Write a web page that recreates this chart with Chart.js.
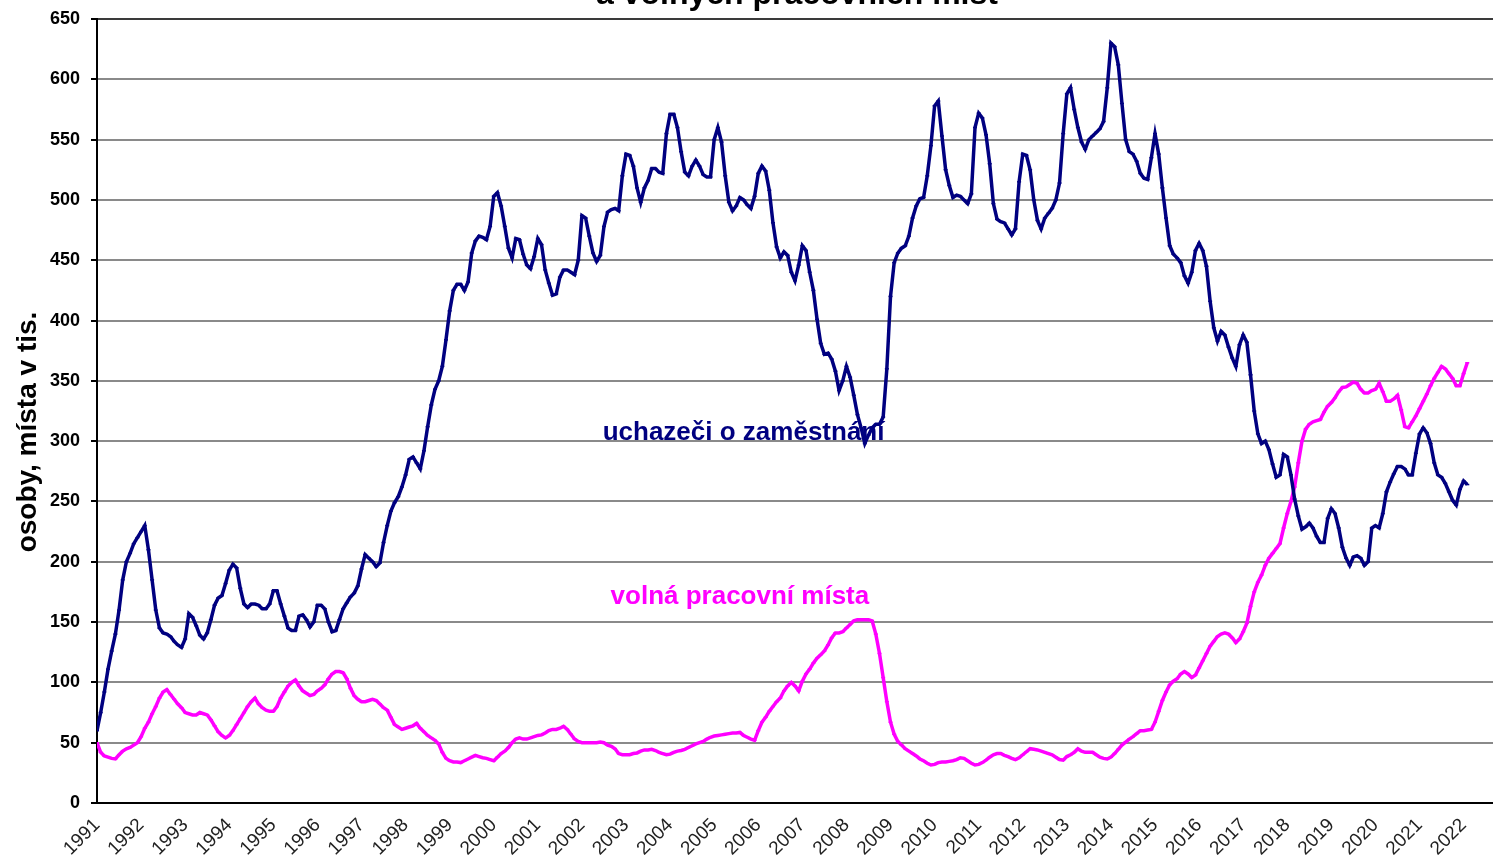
<!DOCTYPE html>
<html>
<head>
<meta charset="utf-8">
<script src="https://cdn.jsdelivr.net/npm/chart.js@4.4.0/dist/chart.umd.min.js"></script>
<style>
  html, body { margin: 0; padding: 0; background: #fff; }
</style>
</head>
<body>
<canvas id="graf" width="1493" height="865"></canvas>
<script>
// roky na ose x (leden kazdeho roku)
var roky = [1991, 1992, 1993, 1994, 1995, 1996, 1997, 1998, 1999, 2000, 2001, 2002, 2003, 2004, 2005, 2006,
            2007, 2008, 2009, 2010, 2011, 2012, 2013, 2014, 2015, 2016, 2017, 2018, 2019, 2020, 2021, 2022];

var nazvyRad = ['uchazeči o zaměstnání', 'volná pracovní místa'];

// mesicni hodnoty v tis., leden 1991 - unor 2022
var uchazeci = [
  60, 75, 92, 111, 126, 140, 160, 185, 200, 207, 215, 220,      // 1991
  225, 230, 210, 185, 160, 145, 141, 140, 138, 134, 131, 129,   // 1992
  136, 157, 154, 147, 139, 136, 141, 152, 164, 170, 172, 182,   // 1993
  193, 198, 195, 178, 165, 162, 165, 165, 164, 161, 161, 165,   // 1994
  176, 176, 165, 155, 145, 143, 143, 155, 156, 152, 146, 150,   // 1995
  164, 164, 161, 150, 142, 143, 152, 161, 166, 171, 174, 180,   // 1996
  194, 206, 203, 200, 196, 199, 216, 230, 242, 249, 254, 262,   // 1997
  272, 285, 287, 282, 277, 292, 312, 330, 343, 350, 362, 384,   // 1998
  408, 425, 430, 430, 425, 432, 456, 466, 470, 469, 467, 478,   // 1999
  503, 506, 495, 478, 460, 452, 468, 467, 455, 446, 443, 453,   // 2000
  468, 463, 442, 431, 421, 422, 436, 442, 442, 440, 438, 450,   // 2001
  487, 485, 470, 456, 449, 454, 478, 490, 492, 493, 491, 520,   // 2002
  538, 537, 528, 510, 498, 510, 516, 526, 526, 523, 522, 555,   // 2003
  571, 571, 560, 540, 523, 520, 528, 533, 528, 521, 519, 519,   // 2004
  550, 560, 548, 520, 498, 491, 495, 502, 500, 496, 493, 503,   // 2005
  522, 528, 524, 508, 481, 461, 452, 457, 454, 440, 433, 446,   // 2006
  462, 458, 440, 425, 401, 381, 372, 373, 368, 358, 342, 350,   // 2007
  362, 353, 338, 322, 311, 298, 305, 311, 314, 314, 320, 360,   // 2008
  420, 448, 456, 460, 462, 470, 485, 495, 501, 502, 520, 545,   // 2009
  578, 582, 553, 525, 512, 502, 504, 503, 500, 497, 505, 560,   // 2010
  572, 568, 554, 530, 497, 484, 482, 481, 476, 471, 476, 515,   // 2011
  538, 537, 525, 500, 483, 476, 485, 489, 493, 500, 514, 555,   // 2012
  588, 593, 575, 560, 548, 542, 550, 553, 556, 559, 565, 593,   // 2013
  630, 627, 612, 580, 550, 540, 538, 532, 522, 518, 517, 535,   // 2014
  555, 538, 510, 485, 462, 455, 452, 448, 437, 431, 440, 458,   // 2015
  464, 458, 445, 416, 394, 383, 391, 388, 378, 369, 362, 380,   // 2016
  388, 382, 355, 325, 306, 298, 300, 293, 281, 270, 272, 289,   // 2017
  287, 272, 252, 238, 227, 229, 232, 228, 221, 216, 216, 236,   // 2018
  244, 240, 228, 212, 203, 197, 204, 205, 203, 197, 200, 228,   // 2019
  230, 228, 240, 258, 266, 273, 279, 279, 277, 272, 272, 290,   // 2020
  306, 311, 307, 298, 282, 272, 270, 265, 258, 251, 247, 260,   // 2021
  267, 264                                                      // 2022
];

var volnaMista = [
  50, 42, 39, 38, 37, 36.5, 40, 43, 45, 46, 48, 50,             // 1991
  55, 62, 67, 74, 80, 87, 92, 94, 90, 86, 82, 79,               // 1992
  75, 74, 73, 73, 75, 74, 73, 69, 64, 59, 56, 54,               // 1993
  56, 60, 65, 70, 75, 80, 84, 87, 82, 79, 77, 76,               // 1994
  76, 80, 87, 92, 97, 100, 102, 97, 93, 91, 89, 90,             // 1995
  93, 95, 98, 103, 107, 109, 109, 108, 103, 95, 89, 86,         // 1996
  84, 84, 85, 86, 85, 82, 79, 77, 71, 65, 63, 61,               // 1997
  62, 63, 64, 66, 62, 59, 56, 54, 52, 49, 42, 37,               // 1998
  35, 34, 34, 33.5, 35, 36.5, 38, 39.5, 38.5, 37.5, 37, 36,     // 1999
  35, 38, 41, 43, 46, 50, 53, 54, 53, 53, 54, 55,               // 2000
  56, 56.5, 58, 60, 61, 61, 62, 63.5, 61, 57, 53, 51,           // 2001
  50, 50, 50, 50, 50, 50.5, 50, 48, 47, 45, 41, 40,             // 2002
  40, 40, 41, 41.5, 43, 44, 44, 44.5, 43.5, 42, 41, 40,         // 2003
  40.5, 42, 43, 43.5, 44.5, 46, 47.5, 49, 50, 51, 53, 54.5,     // 2004
  55.5, 56, 56.5, 57, 57.5, 58, 58, 58.5, 56, 54.5, 53, 52,     // 2005
  60, 67, 71, 76, 80, 84, 87, 93, 97, 100, 97, 93,              // 2006
  101, 107, 111, 116, 120, 123, 126, 131, 137, 141, 141, 142,   // 2007
  145, 148, 151, 152, 152, 152, 152, 151, 140, 124, 104, 84,    // 2008
  67, 57, 51, 48, 45, 43, 41, 39, 36.5, 35, 33, 31.5,           // 2009
  32, 33.5, 34, 34, 34.5, 35, 36, 37.5, 37, 35, 33, 31.5,       // 2010
  32, 33.5, 35.5, 38, 40, 41, 41, 39.5, 38.5, 37, 36, 37.5,     // 2011
  40, 42.5, 45, 44.5, 44, 43, 42, 41, 40, 38, 36, 35.5,         // 2012
  38.5, 40, 42, 45, 43, 42, 42, 42, 40, 38, 37, 36.5,           // 2013
  38, 41, 44.5, 48, 50.5, 53, 55, 57.5, 60, 60, 60.5, 61,       // 2014
  67, 76, 85, 92, 98, 101, 103, 107, 109, 107, 104, 106,        // 2015
  112, 118, 124, 130, 134, 138, 140, 141, 140, 137, 133, 136,   // 2016
  142, 149, 163, 175, 183, 189, 197, 203, 207, 211, 215, 228,   // 2017
  240, 250, 262, 282, 300, 310, 314, 316, 317, 318, 324, 329,   // 2018
  332, 336, 341, 344.5, 345, 347, 349, 348, 343, 340, 340, 342, // 2019
  343, 348, 341, 333, 333, 335, 338, 326, 312, 311, 316, 321,   // 2020
  327, 333, 339, 346, 352, 357, 362, 360, 356, 352, 346, 346,   // 2021
  356, 365                                                      // 2022
];

var pismo = '"Liberation Sans", Arial, sans-serif';

function body(rada) {
  return rada.map(function (v, i) { return { x: i, y: v }; });
}

// popisky rad, nadpis a titulek osy y
var popisky = {
  id: 'popisky',
  afterDraw: function (chart) {
    var ctx = chart.ctx;
    var x = chart.scales.x, y = chart.scales.y;
    ctx.save();
    ctx.textAlign = 'center';
    ctx.textBaseline = 'middle';
    ctx.font = 'bold 26px ' + pismo;
    ctx.fillStyle = '#000080';
    ctx.fillText(nazvyRad[0], x.getPixelForValue(176), y.getPixelForValue(307));
    ctx.fillStyle = '#ff00ff';
    ctx.fillText(nazvyRad[1], x.getPixelForValue(175), y.getPixelForValue(171));

    // nadpis je nahore oriznuty, vidi se jen spodni radek
    ctx.fillStyle = '#000';
    ctx.font = 'bold 32px ' + pismo;
    ctx.textBaseline = 'alphabetic';
    ctx.fillText('a volných pracovních míst', 797, 4);

    ctx.translate(28, 432);
    ctx.rotate(-Math.PI / 2);
    ctx.font = 'bold 28px ' + pismo;
    ctx.textBaseline = 'middle';
    ctx.fillText('osoby, místa v tis.', 0, 0);
    ctx.restore();
  }
};

var ctx = document.getElementById('graf').getContext('2d');
var graf = new Chart(ctx, {
  type: 'line',
  data: {
    datasets: [{
      label: nazvyRad[0],
      data: body(uchazeci),
      borderColor: '#000080',
      backgroundColor: '#000080',
      borderWidth: 3.5,
      pointStyle: 'line',
      pointRadius: 2,
      pointBorderWidth: 1.5,
      tension: 0
    }, {
      label: nazvyRad[1],
      data: body(volnaMista),
      borderColor: '#ff00ff',
      backgroundColor: '#ff00ff',
      borderWidth: 3.5,
      pointStyle: 'line',
      pointRadius: 2,
      pointBorderWidth: 1.5,
      tension: 0
    }]
  },
  options: {
    responsive: false,
    animation: false,
    devicePixelRatio: 1,
    layout: { autoPadding: false, padding: { top: 19, right: 0, bottom: 0, left: 0 } },
    plugins: {
      legend: { display: false },
      tooltip: { enabled: false }
    },
    scales: {
      x: {
        type: 'linear',
        min: 0,
        max: 380,
        grid: { display: false },
        border: { display: true, color: '#000', width: 2 },
        ticks: {
          stepSize: 12,
          autoSkip: false,
          includeBounds: false,
          minRotation: 45,
          maxRotation: 45,
          padding: 3,
          color: '#222',
          font: { family: pismo, size: 19 },
          callback: function (v) {
            return v % 12 === 0 ? String(roky[v / 12]) : '';
          }
        },
        afterFit: function (s) {
          s.height = 62;
          s.paddingLeft = 0;
          s.paddingRight = 0;
        }
      },
      y: {
        min: 0,
        max: 650,
        grid: {
          color: function (c) { return c.tick && c.tick.value === 650 ? '#3a3a3a' : '#8a8a8a'; },
          lineWidth: 2,
          tickLength: 6,
          tickColor: '#000',
          tickWidth: 2
        },
        border: { display: true, color: '#000', width: 2 },
        ticks: {
          stepSize: 50,
          padding: 11,
          color: '#000',
          font: { family: pismo, size: 18, weight: 'bold' }
        },
        afterFit: function (s) {
          s.width = 97;
          s.paddingTop = 0;
          s.paddingBottom = 0;
        }
      }
    }
  },
  plugins: [popisky]
});
</script>
</body>
</html>
